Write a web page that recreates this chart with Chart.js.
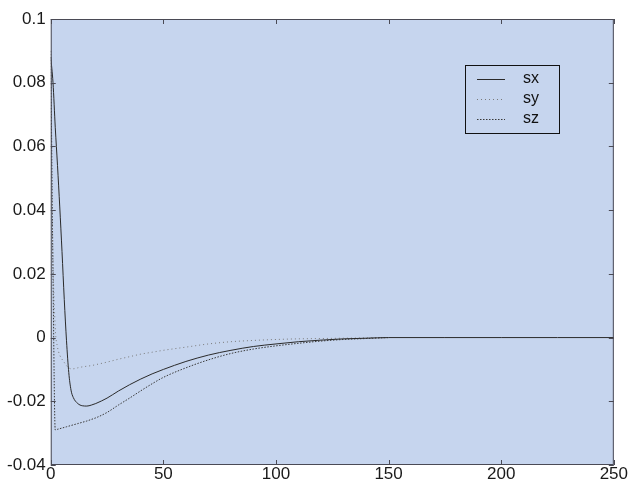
<!DOCTYPE html>
<html>
<head>
<meta charset="utf-8">
<script src="https://cdn.jsdelivr.net/npm/chart.js@4.4.1/dist/chart.umd.min.js"></script>
<style>
  html, body { margin: 0; padding: 0; background: #fff; }
  #wrap { width: 629px; height: 484px; }
</style>
</head>
<body>
<div id="wrap"><canvas id="myChart"></canvas></div>
<script>
const tValues = [0, 1, 2, 3, 4, 5, 6, 7, 8, 9, 10, 12, 14, 16, 18, 20, 25, 30, 35, 40, 45, 50,
  60, 70, 80, 90, 100, 110, 120, 130, 140, 150, 175, 200, 225, 250];
const sxValues = [0.088, 0.080, 0.066, 0.054, 0.041, 0.027, 0.012, -0.001, -0.011, -0.0165, -0.0188,
  -0.0207, -0.0214, -0.0215, -0.0212, -0.0207, -0.019, -0.0168, -0.0148, -0.013, -0.0114, -0.0100,
  -0.0075, -0.0055, -0.004, -0.0028, -0.002, -0.0013, -0.0008, -0.0004, -0.0002, 0, 0, 0, 0, 0];
const syValues = [0.072, 0.025, 0.003, -0.003, -0.0055, -0.0068, -0.0078, -0.0088, -0.0095, -0.0098, -0.0098,
  -0.0095, -0.0092, -0.009, -0.0088, -0.0085, -0.0077, -0.0068, -0.006, -0.0052, -0.0046, -0.004,
  -0.003, -0.002, -0.0013, -0.0009, -0.0006, -0.0004, -0.0003, -0.0002, -0.0001, 0, null, null, null, null];
const szValues = [0.09, 0.02, -0.029, -0.0288, -0.0286, -0.0284, -0.0282, -0.028, -0.0278, -0.0276, -0.0274,
  -0.027, -0.0266, -0.0262, -0.0257, -0.0252, -0.0235, -0.0212, -0.019, -0.0167, -0.0145, -0.0125,
  -0.0095, -0.007, -0.005, -0.0036, -0.0026, -0.0018, -0.0011, -0.0006, -0.0003, 0, null, null, null, null];
const seriesNames = ["sx", "sy", "sz"];
const xTicks = [0, 50, 100, 150, 200, 250];
const yTicks = [-0.04, -0.02, 0, 0.02, 0.04, 0.06, 0.08, 0.1];
const yTickLabels = ["-0.04", "-0.02", "0", "0.02", "0.04", "0.06", "0.08", "0.1"];

const lineStyles = [
  { color: "#2a2a2a", dash: [], width: 1 },
  { color: "#7a7a7a", dash: [1, 3], width: 1 },
  { color: "#3a3a3a", dash: [1.5, 1.5], width: 1 }
];

const toPoints = vals => tValues.map((t, i) => ({ x: t, y: vals[i] }));

const frame = {
  id: "frame",
  beforeDraw(chart) {
    const { ctx, chartArea: a } = chart;
    ctx.save();
    ctx.fillStyle = "#c6d5ee";
    ctx.fillRect(a.left, a.top, a.right - a.left, a.bottom - a.top);
    ctx.restore();
  },
  afterDraw(chart) {
    const { ctx, chartArea: a, scales } = chart;
    ctx.save();
    ctx.strokeStyle = "#4a4a55";
    ctx.lineWidth = 1;
    ctx.strokeRect(a.left + 0.5, a.top + 0.5, a.right - a.left - 1, a.bottom - a.top - 1);
    ctx.beginPath();
    xTicks.forEach(v => {
      const px = Math.round(scales.x.getPixelForValue(v)) + 0.5;
      ctx.moveTo(px, a.bottom); ctx.lineTo(px, a.bottom - 5);
      ctx.moveTo(px, a.top); ctx.lineTo(px, a.top + 5);
    });
    yTicks.forEach(v => {
      const py = Math.round(scales.y.getPixelForValue(v)) + 0.5;
      ctx.moveTo(a.left, py); ctx.lineTo(a.left + 5, py);
      ctx.moveTo(a.right, py); ctx.lineTo(a.right - 5, py);
    });
    ctx.stroke();

    // legend box
    const bx = 465, by = 65, bw = 94, bh = 68;
    ctx.strokeStyle = "#111";
    ctx.strokeRect(bx + 0.5, by + 0.5, bw, bh);
    ctx.font = "16px 'Liberation Sans', Arial, sans-serif";
    ctx.textBaseline = "middle";
    seriesNames.forEach((name, i) => {
      const y = by + 14 + i * 20;
      const s = lineStyles[i];
      ctx.beginPath();
      ctx.strokeStyle = s.color;
      ctx.setLineDash(s.dash);
      ctx.moveTo(bx + 12, y + 0.5); ctx.lineTo(bx + 40, y + 0.5);
      ctx.stroke();
      ctx.setLineDash([]);
      ctx.fillStyle = "#111";
      ctx.fillText(name, bx + 58, y);
    });
    ctx.restore();
  }
};

new Chart(document.getElementById("myChart"), {
  type: "line",
  plugins: [frame],
  data: {
    datasets: seriesNames.map((name, i) => ({
      label: name,
      data: toPoints([sxValues, syValues, szValues][i]),
      borderColor: lineStyles[i].color,
      borderDash: lineStyles[i].dash,
      borderWidth: lineStyles[i].width,
      pointRadius: 0,
      fill: false,
      cubicInterpolationMode: "monotone",
      spanGaps: false
    }))
  },
  options: {
    responsive: true,
    maintainAspectRatio: false,
    animation: false,
    layout: { padding: { top: 19, right: 0, left: 2, bottom: 0 } },
    plugins: { legend: { display: false }, tooltip: { enabled: false } },
    scales: {
      x: {
        type: "linear",
        min: 0, max: 250,
        afterBuildTicks: s => { s.ticks = xTicks.map(v => ({ value: v })); },
        grid: { display: false, drawTicks: false },
        border: { display: false },
        ticks: { color: "#1a1a1a", font: { family: "'Liberation Sans', Arial", size: 17, lineHeight: 1.0 }, padding: 1, maxRotation: 0 }
      },
      y: {
        type: "linear",
        min: -0.04, max: 0.1,
        afterBuildTicks: s => { s.ticks = yTicks.map(v => ({ value: v })); },
        grid: { display: false, drawTicks: false },
        border: { display: false },
        ticks: {
          color: "#1a1a1a", font: { family: "'Liberation Sans', Arial", size: 17 }, padding: 5,
          callback: v => yTickLabels[yTicks.findIndex(t => Math.abs(t - v) < 1e-9)]
        }
      }
    }
  }
});
</script>
</body>
</html>
